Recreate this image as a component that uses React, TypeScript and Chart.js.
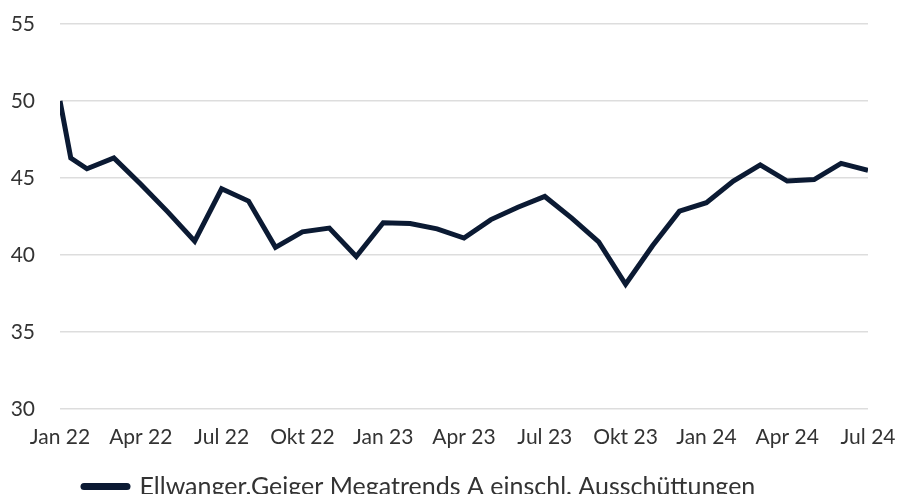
import React, { useEffect, useRef } from "react";
import { Chart, registerables } from "chart.js";

Chart.register(...registerables);

const monthIndex: number[] = [0, 0.4, 1, 2, 3, 4, 5, 6, 7, 8, 9, 10, 11, 12, 13, 14, 15, 16, 17, 18, 19, 20, 21, 22, 23, 24, 25, 26, 27, 28, 29, 30];
const fundValues: number[] = [50.0, 46.3, 45.6, 46.3, 44.6, 42.8, 40.9, 44.3, 43.5, 40.5, 41.5, 41.75, 39.9, 42.1, 42.05, 41.7, 41.1, 42.3, 43.1, 43.8, 42.4, 40.85, 38.1, 40.6, 42.85, 43.4, 44.8, 45.85, 44.8, 44.9, 45.95, 45.5];
const tickLabels: string[] = ["Jan 22", "Apr 22", "Jul 22", "Okt 22", "Jan 23", "Apr 23", "Jul 23", "Okt 23", "Jan 24", "Apr 24", "Jul 24"];
const seriesName = "Ellwanger.Geiger Megatrends A einschl. Ausschüttungen";

export default function App() {
  const ref = useRef<HTMLCanvasElement>(null);
  useEffect(() => {
    if (!ref.current) return;
    const font = "Lato, 'Noto Sans', sans-serif";
    const legendShift = {
      id: "legendShift",
      afterLayout(chart: any) {
        const lg = chart.legend;
        if (lg) {
          const w = lg.right - lg.left;
          lg.left = 63;
          lg.right = 63 + w;
        }
      },
    };
    const chart = new Chart(ref.current, {
      type: "line",
      data: {
        datasets: [
          {
            label: seriesName,
            data: monthIndex.map((m, i) => ({ x: m, y: fundValues[i] })),
            borderColor: "#0b1a33",
            backgroundColor: "#0b1a33",
            borderWidth: 5,
            pointRadius: 0,
            tension: 0,
            borderJoinStyle: "miter",
          },
        ],
      },
      options: {
        animation: false,
        responsive: false,
        layout: { padding: { left: 10, right: 30, top: 24, bottom: 0 } },
        scales: {
          x: {
            type: "linear",
            min: 0,
            max: 30,
            grid: { display: false, drawTicks: false },
            border: { display: false },
            afterFit: (s: any) => {
              s.paddingLeft = 0;
              s.paddingRight = 0;
              s.height = 44;
            },
            ticks: {
              stepSize: 3,
              autoSkip: false,
              maxRotation: 0,
              padding: 16,
              color: "#333",
              font: { family: font, size: 21 },
              callback: (v: any) => tickLabels[Math.round(Number(v) / 3)] ?? "",
            },
          },
          y: {
            min: 30,
            max: 55,
            grid: { color: "#dddddd", lineWidth: 1.5, drawTicks: false },
            border: { display: false },
            afterFit: (s: any) => {
              s.width = 50;
              s.paddingTop = 0;
              s.paddingBottom = 0;
            },
            ticks: {
              stepSize: 5,
              padding: 25,
              color: "#333",
              font: { family: font, size: 21 },
            },
          },
        },
        plugins: {
          tooltip: { enabled: false },
          legend: {
            position: "bottom",
            align: "start",
            labels: {
              usePointStyle: true,
              pointStyle: "line",
              pointStyleWidth: 43,
              boxHeight: 25,
              color: "#333",
              font: { family: font, size: 25 },
              padding: 21,
              generateLabels: (c: any) => {
                const items = Chart.defaults.plugins.legend.labels.generateLabels(c);
                items.forEach((it: any) => {
                  it.lineWidth = 7;
                  it.lineCap = "round";
                  it.pointStyle = "line";
                });
                return items;
              },
            },
          },
        },
      },
      plugins: [legendShift],
    });
    return () => chart.destroy();
  }, []);
  return (
    <div style={{ position: "absolute", left: 0, top: 0, width: 898, height: 509 }}>
      <canvas ref={ref} width={898} height={509} style={{ display: "block" }} />
    </div>
  );
}
